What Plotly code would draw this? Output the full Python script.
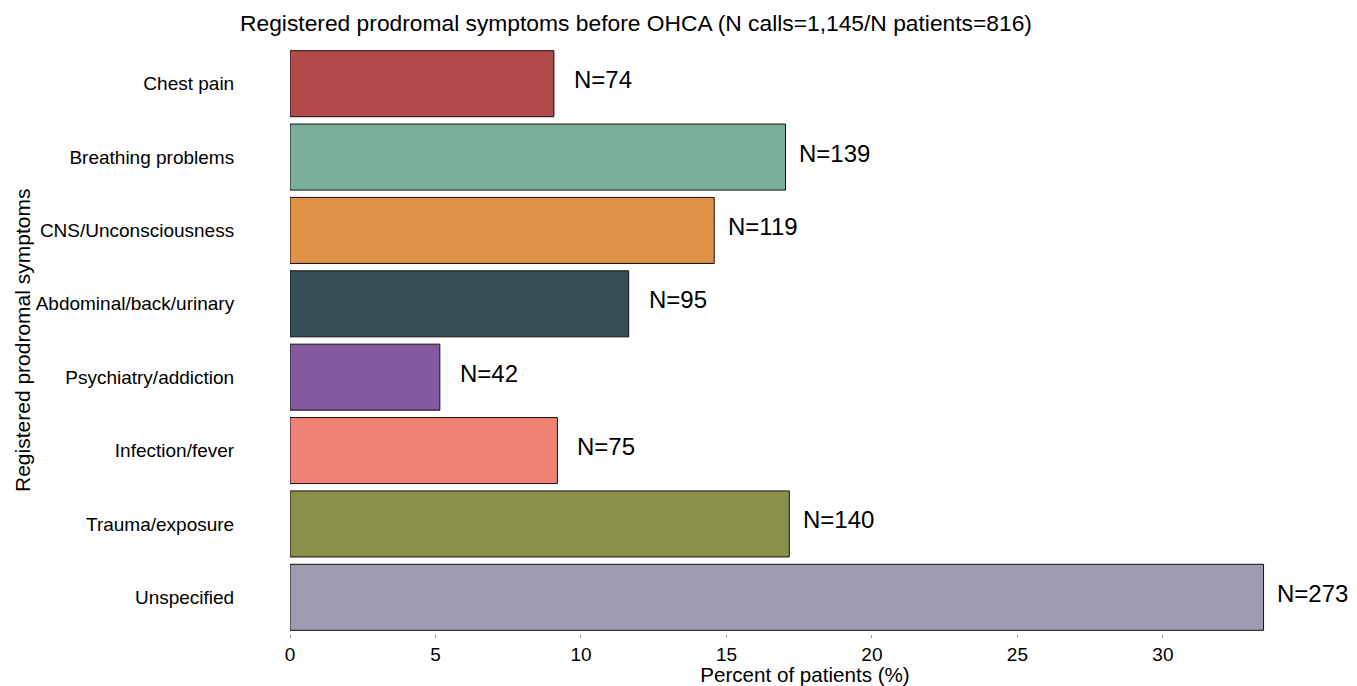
import plotly.graph_objects as go

categories = ["Chest pain", "Breathing problems", "CNS/Unconsciousness",
              "Abdominal/back/urinary", "Psychiatry/addiction", "Infection/fever",
              "Trauma/exposure", "Unspecified"]
percent = [9.07, 17.03, 14.58, 11.64, 5.15, 9.19, 17.16, 33.46]
counts = [74, 139, 119, 95, 42, 75, 140, 273]
colors = ["#B34949", "#7AB098", "#E09146", "#364E55", "#8459A0", "#EF8273", "#8A9047", "#9D9BB0"]
x_ticks = [0, 5, 10, 15, 20, 25, 30]

FONT = "Liberation Sans, Arial, sans-serif"

W, H = 1349, 678
ML, MR, MT, MB = 282, 37, 39, 52
PW = W - ML - MR

fig = go.Figure()
fig.add_trace(go.Bar(
    y=categories, x=percent, orientation="h",
    marker=dict(color=colors, line=dict(color="#111111", width=1)),
    width=0.9, showlegend=False, hoverinfo="x+y",
))

for cat, p, n in zip(categories, percent, counts):
    fig.add_annotation(x=p, y=cat, text=f"N={n}", xanchor="center", yanchor="middle",
                       xshift=49, yshift=4, showarrow=False,
                       font=dict(size=24, color="#000000", family=FONT))

fig.add_annotation(xref="paper", yref="paper", x=(1 - ML) / PW, y=0.5,
                   text="Registered prodromal symptoms", textangle=-90,
                   showarrow=False, xanchor="left", yanchor="middle",
                   font=dict(size=21, color="#000000", family=FONT))

fig.update_layout(
    width=W, height=H,
    paper_bgcolor="white", plot_bgcolor="white",
    margin=dict(l=ML, r=MR, t=MT, b=MB, autoexpand=False),
    font=dict(family=FONT, color="#000000"),
    title=dict(text="Registered prodromal symptoms before OHCA (N calls=1,145/N patients=816)",
               x=628 / W, xanchor="center", y=1 - 15 / H, yanchor="middle",
               font=dict(size=22.8, color="#000000", family=FONT)),
    bargap=0.1,
)
fig.update_xaxes(range=[0, 35.4], tickvals=x_ticks, showgrid=False, zeroline=False,
                 showline=False, ticks="outside", ticklen=3, tickcolor="#999999",
                 tickfont=dict(size=19, color="#000000"), automargin=False,
                 title=dict(text="Percent of patients (%)", standoff=2,
                            font=dict(size=20.6, color="#000000")))
fig.update_yaxes(categoryorder="array", categoryarray=categories, autorange="reversed",
                 showgrid=False, zeroline=False, showline=False, automargin=False,
                 ticks="outside", ticklen=51, tickcolor="rgba(0,0,0,0)",
                 tickfont=dict(size=19, color="#000000"))

fig.write_html("out.html")
